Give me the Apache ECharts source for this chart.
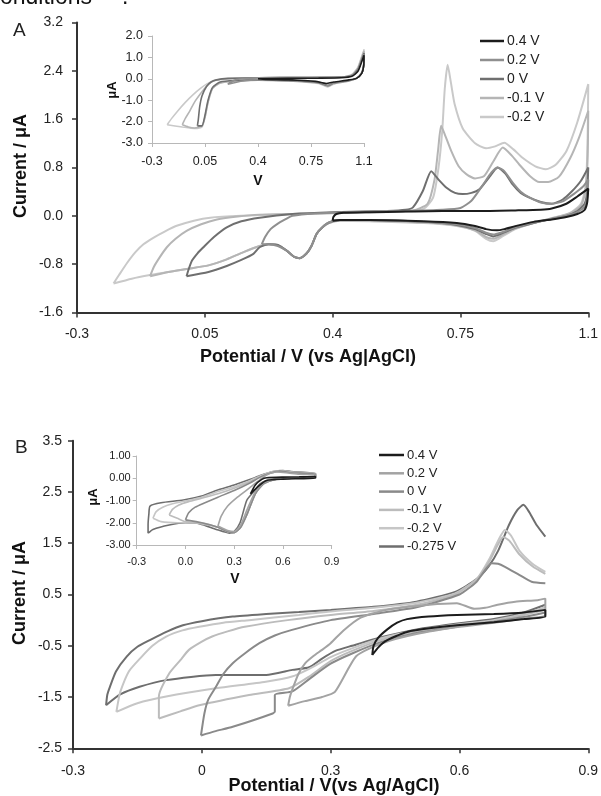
<!DOCTYPE html>
<html>
<head>
<meta charset="utf-8">
<script src="https://cdn.jsdelivr.net/npm/echarts@6.0.0/dist/echarts.min.js"></script>
<style>
html,body{margin:0;padding:0;background:#fff;}
#main{width:601px;height:796px;}
</style>
</head>
<body>
<div id="main"></div>
<script>
// tick values
var aMainXTicks = [-0.3, 0.05, 0.4, 0.75, 1.1];
var aMainYTicks = [-1.6, -0.8, 0, 0.8, 1.6, 2.4, 3.2];
var aInsetXTicks = [-0.3, 0.05, 0.4, 0.75, 1.1];
var aInsetYTicks = [-3, -2, -1, 0, 1, 2];
var bMainXTicks = [-0.3, 0, 0.3, 0.6, 0.9];
var bMainYTicks = [-2.5, -1.5, -0.5, 0.5, 1.5, 2.5, 3.5];
var bInsetXTicks = [-0.3, 0, 0.3, 0.6, 0.9];
var bInsetYTicks = [-3, -2, -1, 0, 1];

// legend names / colours
var aNames = ['0.4 V', '0.2 V', '0 V', '-0.1 V', '-0.2 V'];
var aColors = ['#1c1c1c', '#8f8f8f', '#6f6f6f', '#b5b5b5', '#c9c9c9'];
var bNames = ['0.4 V', '0.2 V', '0 V', '-0.1 V', '-0.2 V', '-0.275 V'];
var bColors = ['#1c1c1c', '#a3a3a3', '#8a8a8a', '#bcbcbc', '#c6c6c6', '#6e6e6e'];

// ---- A main: [potential V, current uA]
var aMain04 = [[0.4,-0.08],[0.402,-0.02],[0.41,0.03],[0.43,0.05],[0.5,0.06],[0.6,0.07],[0.7,0.08],[0.8,0.08],[0.9,0.09],[0.97,0.1],[1.0,0.12],[1.04,0.2],[1.07,0.32],[1.1,0.45],
  [1.097,0.22],[1.09,0.1],[1.07,0.03],[1.04,-0.02],[1.0,-0.06],[0.95,-0.1],[0.9,-0.17],[0.87,-0.22],[0.85,-0.24],[0.82,-0.22],[0.79,-0.17],[0.74,-0.12],[0.65,-0.09],[0.5,-0.07],[0.42,-0.07],[0.4,-0.08]];
var aMain02 = [[0.206,-0.47],[0.215,-0.35],[0.23,-0.22],[0.247,-0.14],[0.27,-0.06],[0.29,0.0],[0.35,0.04],[0.45,0.06],[0.6,0.08],[0.7,0.1],[0.75,0.13],[0.78,0.25],[0.81,0.5],[0.835,0.72],[0.852,0.8],[0.87,0.74],[0.893,0.55],[0.915,0.4],[0.94,0.3],[0.97,0.22],[1.0,0.2],[1.03,0.24],[1.06,0.36],[1.085,0.48],[1.1,0.6],
  [1.097,0.3],[1.09,0.15],[1.07,0.06],[1.04,0.0],[1.0,-0.05],[0.95,-0.11],[0.9,-0.19],[0.86,-0.28],[0.84,-0.31],[0.82,-0.28],[0.79,-0.2],[0.74,-0.14],[0.65,-0.1],[0.5,-0.07],[0.42,-0.07],[0.39,-0.11],[0.37,-0.2],[0.356,-0.3],[0.342,-0.5],[0.329,-0.62],[0.31,-0.7],[0.295,-0.68],[0.275,-0.58],[0.25,-0.5],[0.225,-0.47],[0.206,-0.47]];
var aMain0 = [[0.0,-1.0],[0.006,-0.88],[0.015,-0.74],[0.03,-0.62],[0.046,-0.52],[0.075,-0.35],[0.11,-0.19],[0.15,-0.09],[0.2,-0.03],[0.29,0.03],[0.4,0.06],[0.55,0.08],[0.6,0.1],[0.62,0.14],[0.647,0.41],[0.67,0.74],[0.69,0.6],[0.711,0.47],[0.735,0.38],[0.756,0.36],[0.78,0.38],[0.802,0.44],[0.83,0.65],[0.852,0.8],[0.873,0.7],[0.893,0.52],[0.915,0.38],[0.939,0.3],[0.97,0.23],[1.0,0.2],[1.03,0.27],[1.056,0.41],[1.08,0.58],[1.1,0.8],
  [1.097,0.4],[1.09,0.2],[1.07,0.08],[1.04,0.0],[1.0,-0.05],[0.95,-0.12],[0.9,-0.2],[0.86,-0.3],[0.84,-0.34],[0.82,-0.3],[0.79,-0.22],[0.74,-0.15],[0.65,-0.1],[0.5,-0.07],[0.42,-0.07],[0.39,-0.11],[0.37,-0.2],[0.356,-0.3],[0.342,-0.5],[0.329,-0.62],[0.31,-0.7],[0.295,-0.68],[0.275,-0.58],[0.25,-0.48],[0.225,-0.47],[0.2,-0.52],[0.183,-0.63],[0.15,-0.73],[0.11,-0.83],[0.06,-0.93],[0.0,-1.0]];
var aMainM01 = [[-0.1,-1.0],[-0.09,-0.85],[-0.075,-0.7],[-0.054,-0.52],[-0.03,-0.38],[0.0,-0.25],[0.04,-0.14],[0.083,-0.06],[0.14,-0.01],[0.2,0.02],[0.35,0.04],[0.5,0.06],[0.62,0.09],[0.66,0.2],[0.679,0.6],[0.689,1.1],[0.697,1.49],[0.707,1.35],[0.725,1.07],[0.745,0.82],[0.766,0.69],[0.79,0.62],[0.815,0.66],[0.84,0.9],[0.866,1.13],[0.89,1.0],[0.911,0.85],[0.94,0.66],[0.966,0.56],[0.99,0.56],[1.02,0.65],[1.05,0.95],[1.075,1.3],[1.1,1.74],
  [1.098,0.9],[1.092,0.4],[1.08,0.17],[1.05,0.04],[1.0,-0.04],[0.95,-0.12],[0.9,-0.21],[0.86,-0.33],[0.84,-0.38],[0.82,-0.35],[0.79,-0.24],[0.74,-0.16],[0.65,-0.11],[0.5,-0.08],[0.42,-0.08],[0.39,-0.12],[0.37,-0.2],[0.356,-0.3],[0.342,-0.5],[0.329,-0.62],[0.31,-0.7],[0.295,-0.68],[0.275,-0.58],[0.25,-0.48],[0.225,-0.47],[0.2,-0.5],[0.156,-0.6],[0.11,-0.72],[0.06,-0.82],[0.0,-0.88],[-0.05,-0.93],[-0.1,-1.0]];
var aMainM02 = [[-0.2,-1.12],[-0.185,-0.98],[-0.163,-0.78],[-0.14,-0.6],[-0.118,-0.47],[-0.09,-0.36],[-0.06,-0.26],[-0.027,-0.165],[0.02,-0.08],[0.065,-0.03],[0.15,0.0],[0.3,0.03],[0.45,0.05],[0.6,0.07],[0.65,0.12],[0.675,0.3],[0.69,0.8],[0.7,1.4],[0.707,2.1],[0.715,2.5],[0.724,2.2],[0.734,1.85],[0.756,1.45],[0.79,1.2],[0.82,1.12],[0.845,1.15],[0.87,1.21],[0.895,1.1],[0.92,0.96],[0.955,0.82],[0.984,0.77],[1.01,0.84],[1.04,1.07],[1.07,1.55],[1.1,2.18],
  [1.098,1.2],[1.093,0.5],[1.08,0.2],[1.05,0.05],[1.0,-0.04],[0.95,-0.12],[0.9,-0.22],[0.86,-0.36],[0.84,-0.42],[0.82,-0.38],[0.79,-0.25],[0.74,-0.17],[0.65,-0.12],[0.5,-0.09],[0.42,-0.08],[0.39,-0.12],[0.37,-0.2],[0.356,-0.3],[0.342,-0.5],[0.329,-0.62],[0.31,-0.7],[0.295,-0.68],[0.275,-0.58],[0.25,-0.48],[0.225,-0.47],[0.2,-0.5],[0.156,-0.6],[0.11,-0.72],[0.06,-0.82],[0.0,-0.88],[-0.05,-0.93],[-0.1,-0.98],[-0.15,-1.04],[-0.2,-1.12]];

// ---- A inset
var aIn04 = [[0.4,0.0],[0.6,0.02],[0.8,0.03],[0.95,0.05],[1.02,0.12],[1.06,0.35],[1.085,0.8],[1.1,1.1],[1.098,0.6],[1.085,0.25],[1.05,0.02],[1.0,-0.05],[0.9,-0.15],[0.85,-0.22],[0.78,-0.12],[0.6,-0.05],[0.45,-0.03],[0.4,0.0]];
var aIn02 = [[0.2,-0.25],[0.25,-0.05],[0.4,0.05],[0.7,0.06],[0.95,0.07],[1.02,0.15],[1.06,0.4],[1.085,0.85],[1.1,1.15],[1.098,0.6],[1.085,0.25],[1.05,0.02],[1.0,-0.08],[0.9,-0.2],[0.86,-0.3],[0.8,-0.15],[0.6,-0.08],[0.4,-0.05],[0.3,-0.1],[0.2,-0.25]];
var aIn0 = [[0.0,-2.2],[0.006,-1.9],[0.015,-1.3],[0.03,-0.8],[0.06,-0.36],[0.09,-0.15],[0.126,-0.05],[0.2,0.02],[0.4,0.05],[0.7,0.06],[0.95,0.08],[1.02,0.15],[1.06,0.45],[1.085,0.9],[1.1,1.2],[1.098,0.6],[1.085,0.25],[1.05,0.02],[1.0,-0.08],[0.9,-0.2],[0.86,-0.32],[0.8,-0.18],[0.6,-0.08],[0.4,-0.05],[0.25,-0.08],[0.15,-0.15],[0.1,-0.4],[0.07,-1.0],[0.05,-1.7],[0.03,-2.2],[0.0,-2.2]];
var aInM01 = [[-0.1,-2.15],[-0.08,-1.85],[-0.05,-1.5],[-0.02,-1.1],[0.02,-0.7],[0.06,-0.35],[0.1,-0.12],[0.15,-0.03],[0.25,0.02],[0.4,0.05],[0.7,0.06],[0.95,0.08],[1.02,0.18],[1.06,0.5],[1.085,1.0],[1.1,1.3],[1.098,0.7],[1.085,0.3],[1.05,0.02],[1.0,-0.1],[0.9,-0.22],[0.86,-0.35],[0.8,-0.2],[0.6,-0.1],[0.4,-0.06],[0.25,-0.1],[0.15,-0.2],[0.1,-0.45],[0.07,-1.1],[0.05,-1.8],[0.03,-2.2],[-0.02,-2.3],[-0.06,-2.25],[-0.1,-2.15]];
var aInM02 = [[-0.2,-2.15],[-0.17,-1.85],[-0.13,-1.5],[-0.08,-1.1],[-0.03,-0.75],[0.02,-0.45],[0.06,-0.25],[0.12,-0.06],[0.2,0.0],[0.4,0.05],[0.7,0.06],[0.95,0.08],[1.02,0.2],[1.06,0.55],[1.085,1.05],[1.1,1.35],[1.098,0.7],[1.085,0.3],[1.05,0.02],[1.0,-0.1],[0.9,-0.25],[0.86,-0.38],[0.8,-0.22],[0.6,-0.1],[0.4,-0.06],[0.25,-0.1],[0.15,-0.2],[0.1,-0.45],[0.07,-1.1],[0.05,-1.8],[0.03,-2.25],[-0.02,-2.32],[-0.1,-2.25],[-0.2,-2.15]];

// ---- B main (null = pen lifted between the anodic tail and the return scan)
var bMain04 = [[0.397,-0.68],[0.4,-0.5],[0.41,-0.35],[0.432,-0.18],[0.455,-0.05],[0.478,0.02],[0.528,0.07],[0.594,0.1],[0.68,0.12],[0.75,0.15],[0.8,0.2],
  [0.8,0.07],[0.75,0.02],[0.68,-0.04],[0.594,-0.1],[0.53,-0.16],[0.478,-0.23],[0.45,-0.32],[0.426,-0.42],[0.41,-0.54],[0.397,-0.68]];
var bMain02 = [[0.201,-1.67],[0.205,-1.5],[0.21,-1.37],[0.225,-1.05],[0.241,-0.84],[0.26,-0.7],[0.28,-0.58],[0.3,-0.45],[0.33,-0.2],[0.37,0.05],[0.43,0.2],[0.53,0.3],[0.594,0.33],[0.635,0.22],[0.66,0.24],[0.689,0.3],[0.73,0.36],[0.782,0.39],[0.8,0.42],
  [0.8,0.1],[0.75,0.03],[0.68,-0.05],[0.6,-0.13],[0.5,-0.27],[0.42,-0.45],[0.36,-0.7],[0.31,-1.4],[0.28,-1.5],[0.24,-1.58],[0.201,-1.67]];
var bMain0 = [[-0.002,-2.25],[0.006,-1.82],[0.015,-1.55],[0.033,-1.3],[0.05,-1.05],[0.072,-0.84],[0.1,-0.65],[0.134,-0.45],[0.17,-0.3],[0.21,-0.19],[0.3,0.0],[0.4,0.12],[0.5,0.25],[0.6,0.5],[0.64,0.75],[0.675,1.11],[0.69,1.1],[0.706,1.04],[0.74,0.88],[0.768,0.75],[0.8,0.72],
  null,[0.8,0.15],[0.75,0.06],[0.68,-0.03],[0.6,-0.12],[0.5,-0.25],[0.42,-0.42],[0.35,-0.65],[0.3,-0.85],[0.25,-1.15],[0.211,-1.39],[0.17,-1.46],[0.17,-1.78],[0.165,-1.82],[0.072,-2.08],[0.03,-2.17],[-0.002,-2.25]];
var bMainM01 = [[-0.1,-1.92],[-0.1,-1.49],[-0.076,-1.04],[-0.05,-0.78],[-0.03,-0.58],[0.0,-0.42],[0.024,-0.32],[0.06,-0.22],[0.1,-0.13],[0.2,0.0],[0.3,0.1],[0.4,0.18],[0.5,0.3],[0.59,0.5],[0.64,0.8],[0.67,1.15],[0.69,1.48],[0.702,1.62],[0.716,1.55],[0.74,1.28],[0.77,1.05],[0.8,0.9],
  null,[0.8,0.2],[0.75,0.1],[0.68,-0.02],[0.6,-0.1],[0.5,-0.22],[0.42,-0.38],[0.35,-0.6],[0.3,-0.8],[0.25,-1.1],[0.203,-1.33],[0.11,-1.46],[-0.006,-1.66],[-0.05,-1.78],[-0.1,-1.92]];
var bMainM02 = [[-0.199,-1.79],[-0.195,-1.6],[-0.19,-1.4],[-0.17,-1.0],[-0.143,-0.74],[-0.115,-0.5],[-0.083,-0.32],[-0.045,-0.2],[-0.006,-0.13],[0.05,-0.05],[0.11,0.0],[0.226,0.1],[0.3,0.17],[0.4,0.24],[0.5,0.34],[0.59,0.52],[0.64,0.8],[0.67,1.2],[0.69,1.55],[0.706,1.76],[0.72,1.65],[0.74,1.35],[0.77,1.1],[0.8,0.94],
  null,[0.8,0.25],[0.75,0.12],[0.68,0.0],[0.6,-0.08],[0.5,-0.2],[0.42,-0.35],[0.35,-0.55],[0.3,-0.72],[0.25,-0.95],[0.21,-1.1],[0.149,-1.2],[0.033,-1.33],[-0.083,-1.49],[-0.15,-1.62],[-0.199,-1.79]];
var bMainM0275 = [[-0.223,-1.66],[-0.22,-1.45],[-0.214,-1.3],[-0.2,-1.0],[-0.175,-0.71],[-0.15,-0.52],[-0.121,-0.39],[-0.08,-0.22],[-0.044,-0.1],[0.0,-0.02],[0.072,0.07],[0.15,0.12],[0.226,0.16],[0.3,0.2],[0.4,0.26],[0.5,0.36],[0.59,0.55],[0.64,0.8],[0.668,1.05],[0.69,1.35],[0.715,1.85],[0.735,2.15],[0.749,2.25],[0.763,2.1],[0.78,1.85],[0.8,1.63],
  null,[0.8,0.3],[0.75,0.15],[0.68,0.02],[0.6,-0.06],[0.5,-0.18],[0.42,-0.33],[0.35,-0.5],[0.311,-0.6],[0.28,-0.75],[0.25,-0.92],[0.211,-0.97],[0.15,-1.07],[0.033,-1.07],[-0.083,-1.17],[-0.145,-1.3],[-0.19,-1.45],[-0.223,-1.66]];

// ---- B inset
var bIn04 = [[0.4,-0.7],[0.43,-0.3],[0.47,-0.05],[0.5,0.02],[0.6,0.05],[0.7,0.06],[0.8,0.08],[0.8,0.0],[0.7,-0.02],[0.6,-0.04],[0.5,-0.1],[0.45,-0.35],[0.4,-0.7]];
var bIn02 = [[0.2,-2.15],[0.22,-1.7],[0.26,-1.25],[0.32,-0.85],[0.4,-0.4],[0.46,-0.05],[0.5,0.15],[0.56,0.28],[0.62,0.25],[0.7,0.18],[0.8,0.15],[0.8,0.05],[0.65,0.0],[0.55,-0.05],[0.48,-0.2],[0.43,-0.6],[0.38,-1.4],[0.34,-2.1],[0.3,-2.4],[0.26,-2.35],[0.2,-2.15]];
var bIn0 = [[0.0,-1.87],[0.02,-1.55],[0.06,-1.3],[0.12,-1.1],[0.2,-0.85],[0.3,-0.55],[0.4,-0.2],[0.46,0.05],[0.52,0.22],[0.58,0.32],[0.65,0.25],[0.8,0.18],[0.8,0.05],[0.65,0.0],[0.55,-0.05],[0.48,-0.25],[0.43,-0.7],[0.38,-1.6],[0.34,-2.2],[0.3,-2.45],[0.26,-2.4],[0.2,-2.2],[0.1,-2.0],[0.0,-1.87]];
var bInM01 = [[-0.1,-1.65],[-0.08,-1.4],[-0.04,-1.2],[0.02,-1.05],[0.1,-0.9],[0.2,-0.7],[0.3,-0.45],[0.4,-0.15],[0.46,0.08],[0.52,0.25],[0.58,0.33],[0.65,0.27],[0.8,0.2],[0.8,0.05],[0.65,0.0],[0.55,-0.05],[0.48,-0.25],[0.43,-0.7],[0.38,-1.6],[0.34,-2.2],[0.3,-2.45],[0.26,-2.4],[0.2,-2.2],[0.1,-2.05],[0.0,-1.95],[-0.05,-1.8],[-0.1,-1.65]];
var bInM02 = [[-0.2,-1.8],[-0.18,-1.5],[-0.14,-1.3],[-0.08,-1.15],[0.0,-1.02],[0.1,-0.85],[0.2,-0.6],[0.3,-0.38],[0.4,-0.1],[0.46,0.1],[0.52,0.27],[0.58,0.35],[0.65,0.28],[0.8,0.2],[0.8,0.05],[0.65,0.0],[0.55,-0.05],[0.48,-0.25],[0.43,-0.7],[0.38,-1.6],[0.34,-2.2],[0.3,-2.45],[0.26,-2.4],[0.2,-2.2],[0.09,-2.0],[-0.05,-2.0],[-0.15,-1.95],[-0.2,-1.8]];
var bInM0275 = [[-0.23,-2.47],[-0.23,-2.1],[-0.225,-1.6],[-0.218,-1.25],[-0.15,-1.1],[-0.013,-0.98],[0.1,-0.8],[0.19,-0.55],[0.3,-0.3],[0.4,-0.05],[0.46,0.12],[0.54,0.3],[0.6,0.35],[0.65,0.3],[0.8,0.22],[0.8,0.05],[0.65,0.0],[0.55,-0.05],[0.5,-0.1],[0.459,-0.25],[0.42,-0.6],[0.377,-1.0],[0.336,-2.0],[0.3,-2.4],[0.274,-2.47],[0.19,-2.3],[0.09,-2.05],[0.0,-2.0],[-0.1,-2.1],[-0.2,-2.3],[-0.23,-2.47]];

var aMainData = [aMain04, aMain02, aMain0, aMainM01, aMainM02];
var aInData = [aIn04, aIn02, aIn0, aInM01, aInM02];
var bMainData = [bMain04, bMain02, bMain0, bMainM01, bMainM02, bMainM0275];
var bInData = [bIn04, bIn02, bIn0, bInM01, bInM02, bInM0275];

var FONT = 'Liberation Sans, Arial, sans-serif';
var myChart = echarts.init(document.getElementById('main'), null, {renderer: 'canvas'});

function fmt(dec) {
    return function (v) {
        if (dec == 0) return String(parseFloat(v.toFixed(2)));
        return v.toFixed(dec);
    };
}
function mkAxis(idx, min, max, ticks, formatter, inset, margin, fsize) {
    return {
        type: 'value', gridIndex: idx, min: min, max: max,
        axisLine: {show: true, onZero: false, lineStyle: {color: inset ? '#b8b8b8' : '#333', width: inset ? 1 : 2}},
        axisTick: {show: true, inside: false, length: inset ? 4 : 5, customValues: ticks,
            lineStyle: {color: inset ? '#b8b8b8' : '#333', width: inset ? 1 : 1.5}},
        axisLabel: {customValues: ticks, formatter: formatter, margin: margin,
            color: '#222', fontFamily: FONT, fontSize: fsize},
        splitLine: {show: false}
    };
}
function mkSeries(name, data, color, idx, width) {
    return {
        name: name, type: 'line', xAxisIndex: idx, yAxisIndex: idx,
        data: data, showSymbol: false, symbol: 'none', smooth: 0.2, connectNulls: false,
        lineStyle: {color: color, width: width}, itemStyle: {color: color},
        emphasis: {disabled: true}, silent: true
    };
}

var series = [];
// lighter curves first, black on top
for (var i = aNames.length - 1; i >= 0; i--) {
    series.push(mkSeries(aNames[i], aMainData[i], aColors[i], 0, 2));
    series.push(mkSeries(aNames[i], aInData[i], aColors[i], 1, 1.6));
}
for (var j = bNames.length - 1; j >= 0; j--) {
    series.push(mkSeries('B|' + bNames[j], bMainData[j], bColors[j], 2, 2));
    series.push(mkSeries('B|' + bNames[j], bInData[j], bColors[j], 3, 1.6));
}

var option = {
    animation: false,
    backgroundColor: '#fff',
    grid: [
        {left: 77, top: 22.5, width: 512, height: 290},
        {left: 152, top: 36, width: 212, height: 107},
        {left: 73, top: 440.7, width: 516, height: 307.6},
        {left: 136.7, top: 456, width: 195, height: 89}
    ],
    xAxis: [
        mkAxis(0, -0.3, 1.1, aMainXTicks, fmt(0), false, 14.5, 14),
        mkAxis(1, -0.3, 1.1, aInsetXTicks, fmt(0), true, 12.5, 12.5),
        mkAxis(2, -0.3, 0.9, bMainXTicks, fmt(0), false, 15.5, 14),
        mkAxis(3, -0.3, 0.9, bInsetXTicks, fmt(1), true, 11, 11)
    ],
    yAxis: [
        mkAxis(0, -1.6, 3.2, aMainYTicks, fmt(1), false, 14, 14),
        mkAxis(1, -3, 2, aInsetYTicks, fmt(1), true, 9, 12.5),
        mkAxis(2, -2.5, 3.5, bMainYTicks, fmt(1), false, 11, 14),
        mkAxis(3, -3, 1, bInsetYTicks, fmt(2), true, 6, 11)
    ],
    legend: [
        {data: aNames, orient: 'vertical', left: 480, top: 34, padding: 0, itemWidth: 24, itemHeight: 2.5, itemGap: 5,
            icon: 'rect', selectedMode: false, textStyle: {color: '#222', fontFamily: FONT, fontSize: 14, padding: [0, 0, 0, -2]}},
        {data: bNames.map(function (n) { return 'B|' + n; }), orient: 'vertical', left: 379, top: 448.5, padding: 0, itemWidth: 25, itemHeight: 2.5, itemGap: 5.3,
            icon: 'rect', selectedMode: false, formatter: function (n) { return n.replace('B|', ''); },
            textStyle: {color: '#222', fontFamily: FONT, fontSize: 13, padding: [0, 0, 0, -2]}}
    ],
    graphic: [
        {type: 'text', left: 0, top: -14, style: {text: 'onditions', font: '23px ' + FONT, fill: '#111'}},
        {type: 'text', left: 122, top: -14, style: {text: '.', font: '23px ' + FONT, fill: '#111'}},
        {type: 'text', left: 13, top: 21, style: {text: 'A', font: '19px ' + FONT, fill: '#222'}},
        {type: 'text', left: 15, top: 438.5, style: {text: 'B', font: '19px ' + FONT, fill: '#222'}},
        {type: 'text', x: 21, y: 166, rotation: Math.PI / 2, style: {text: 'Current / μA', font: 'bold 18px ' + FONT, fill: '#111', align: 'center', verticalAlign: 'middle'}},
        {type: 'text', x: 308, y: 357, style: {text: 'Potential / V (vs Ag|AgCl)', font: 'bold 18px ' + FONT, fill: '#111', align: 'center', verticalAlign: 'middle'}},
        {type: 'text', x: 112, y: 90, rotation: Math.PI / 2, style: {text: 'μA', font: 'bold 13px ' + FONT, fill: '#111', align: 'center', verticalAlign: 'middle'}},
        {type: 'text', x: 258, y: 181, style: {text: 'V', font: 'bold 14px ' + FONT, fill: '#111', align: 'center', verticalAlign: 'middle'}},
        {type: 'text', x: 20, y: 593, rotation: Math.PI / 2, style: {text: 'Current / μA', font: 'bold 18px ' + FONT, fill: '#111', align: 'center', verticalAlign: 'middle'}},
        {type: 'text', x: 334, y: 786, style: {text: 'Potential / V(vs Ag/AgCl)', font: 'bold 18px ' + FONT, fill: '#111', align: 'center', verticalAlign: 'middle'}},
        {type: 'text', x: 93, y: 497, rotation: Math.PI / 2, style: {text: 'μA', font: 'bold 13px ' + FONT, fill: '#111', align: 'center', verticalAlign: 'middle'}},
        {type: 'text', x: 235, y: 579, style: {text: 'V', font: 'bold 14px ' + FONT, fill: '#111', align: 'center', verticalAlign: 'middle'}}
    ],
    series: series
};
myChart.setOption(option);
</script>
</body>
</html>
